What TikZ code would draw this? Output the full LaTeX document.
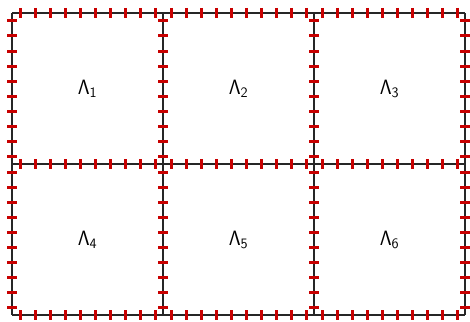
\documentclass[tikz,border=0pt]{standalone}
\usepackage{tikz}
\definecolor{tickred}{RGB}{200,0,0}
\tikzset{
  gridline/.style={line width=1.4pt, black!85},
  tickmark/.style={line width=3pt, tickred},
}
\begin{document}
\begin{tikzpicture}[x=1pt, y=-1pt, every node/.style={font=\fontsize{20}{24}\selectfont}]
	\useasboundingbox (0,0) rectangle (470,321);
	% the grid of cells
	\foreach \gx in {12,163,314,465}
		\draw[gridline] (\gx,13) -- (\gx,315);
	\foreach \gy in {13,164,315}
		\draw[gridline] (12,\gy) -- (465,\gy);
	% ticks on the horizontal edges
	\foreach \gy in {13,164,315}
		\foreach \c in {0,1,2}
			\foreach \k in {0,...,9}
				\draw[tickmark] ({12+151*\c+8+15*\k},\gy-5) -- ++(0,10);
	% ticks on the vertical edges
	\foreach \gx in {12,163,314,465}
		\foreach \r in {0,1}
			\foreach \k in {0,...,9}
				\draw[tickmark] (\gx-5,{13+151*\r+8+15*\k}) -- ++(10,0);
	% cell labels
	\foreach \i/\cx/\cy in {1/87.5/88.5, 2/238.5/88.5, 3/389.5/88.5,
	                        4/87.5/239.5, 5/238.5/239.5, 6/389.5/239.5}
		\node (lambda\i) at (\cx,\cy) {$\mathsf{\Lambda_{\i}}$};
\end{tikzpicture}
\end{document}
